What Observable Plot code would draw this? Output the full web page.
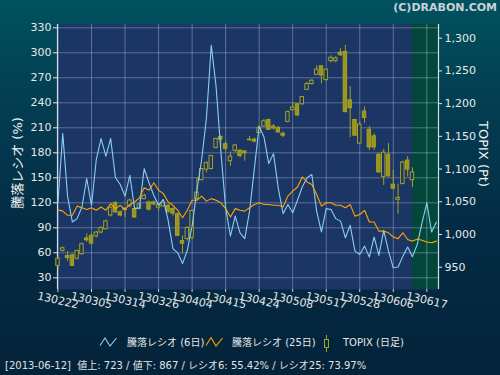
<!DOCTYPE html>
<html><head><meta charset="utf-8">
<script src="https://cdn.jsdelivr.net/npm/d3@7"></script>
<script src="https://cdn.jsdelivr.net/npm/@observablehq/plot@0.6"></script>
<style>
body{margin:0;background:#000;}
#wrap{position:relative;width:500px;height:375px;overflow:hidden;
 background:linear-gradient(180deg,#00525f 0%,#033d52 28%,#032c44 60%,#03233a 100%);
 font-family:"DejaVu Sans","Noto Sans CJK JP",sans-serif;color:#e8e8e8;}
#chart{position:absolute;left:0;top:0;}
.abs{position:absolute;white-space:nowrap;line-height:1;}
#hdr{right:3px;top:2px;font-weight:bold;font-size:11px;color:#c9d3d5;}
.lg{font-size:10px;top:338px;color:#e6e6e6;}
#foot{left:5px;top:361px;font-size:10px;color:#e2e2e2;}
</style></head>
<body><div id="wrap">
<div id="chart"></div>
<div class="abs" id="hdr">(C)DRABON.COM</div>
<svg class="abs" style="left:99px;top:336px" width="20" height="12"><polyline points="1,9.5 6,2 11,10 17.5,2" fill="none" stroke="#88d0f2" stroke-width="1.1"/></svg>
<div class="abs lg" style="left:127px">騰落レシオ (6日)</div>
<svg class="abs" style="left:205px;top:336px" width="20" height="12"><polyline points="1,9.5 6,1.5 11,10 17.5,2" fill="none" stroke="#ffa500" stroke-width="1.1"/></svg>
<div class="abs lg" style="left:232px">騰落レシオ (25日)</div>
<svg class="abs" style="left:321px;top:334px" width="12" height="19"><line x1="5.5" y1="1" x2="5.5" y2="18" stroke="#a6a221"/><rect x="3.5" y="5.5" width="4" height="8" fill="#0b2a42" stroke="#a6a221"/></svg>
<div class="abs lg" style="left:343px">TOPIX (日足)</div>
<div class="abs" id="foot">[2013-06-12]&nbsp; 値上: 723 / 値下: 867 / レシオ6: 55.42% / レシオ25: 73.97%</div>
</div>
<script>
// trading days (x positions are the index into this list)
const dates = ["130222","130225","130226","130227","130228","130301","130304","130305","130306","130307",
"130308","130311","130312","130313","130314","130315","130318","130319","130321","130322",
"130325","130326","130327","130328","130329","130401","130402","130403","130404","130405",
"130408","130409","130410","130411","130412","130415","130416","130417","130418","130419",
"130422","130423","130424","130425","130426","130430","130501","130502","130507","130508",
"130509","130510","130513","130514","130515","130516","130517","130520","130521","130522",
"130523","130524","130527","130528","130529","130530","130531","130603","130604","130605",
"130606","130607","130610","130611","130612","130613","130614","130617","130618","130619"];
const tickLabels = ["130222","130305","130314","130326","130404","130415","130424","130508","130517","130528","130606","130617"];
const leftTicks = [30,60,90,120,150,180,210,240,270,300,330];
const rightTicks = [950,1000,1050,1100,1150,1200,1250,1300];
const shadeFrom = "130612";

// 騰落レシオ (6日)
const ratio6 = [121,203,128,97,101,115,149,117,172,197,
176,197,150,142,128,153,113,114,161,144,
129,117,124,99,65,60,47,63,92,135,
172,222,309,260,182,114,80,104,84,77,
110,161,212,199,167,179,137,107,118,108,
123,139,150,154,110,85,113,112,101,98,
78,93,62,58,68,55,79,57,87,62,
42,43,56,67,55.4,70,96,120,85,97];
// 騰落レシオ (25日)
const ratio25 = [111.6,110,105,105,116,114,112,114,111,115,
111,119,113,117,112,118,121,126,138,135,
144,135,131,121,117,111,102,111,123,123,
128,122,125,123,120,113,103,113,111,110,
114,118,120,118,118,117,117,115,128,134,
139,151,145,142,130,116,120,120,117,117,
114,118,104,106,111,97,97,86,86,84,
79,77,84,76,74,76.5,75,73,72,74];
// TOPIX daily candles
const open  = [952,975,967,968,963,970,994,998,997,1003,1008,1029,1048,1034,1039,1043,1039,1039,1054,1049,
1049,1041,1043,1044,1039,1031,990,993,995,1054,1083,1099,1100,1132,1149,1138,1112,1128,1128,1127,
1145,1145,1155,1165,1175,1165,1163,1154,1172,1190,1199,1199,1221,1230,1244,1257,1236,1265,1265,1278,
1279,1205,1175,1139,1188,1160,1150,1122,1088,1122,1076,1053,1077,1113,1083];
const high  = [966,981,974,970,975,987,1001,1002,1005,1012,1022,1042,1050,1036,1041,1054,1041,1047,1062,1051,
1051,1047,1049,1046,1041,1033,998,1012,1037,1087,1101,1111,1121,1147,1151,1142,1126,1138,1130,1128,
1150,1147,1165,1176,1176,1168,1165,1157,1189,1202,1200,1211,1233,1237,1258,1258,1253,1273,1272,1284,
1289,1226,1176,1172,1195,1165,1154,1124,1130,1139,1098,1077,1112,1119,1102];
const low   = [947,973,959,951,961,968,988,984,995,1001,1007,1027,1032,1027,1026,1041,1025,1038,1053,1036,
1044,1036,1042,1032,1028,997,970,990,992,1053,1082,1094,1099,1131,1133,1127,1104,1125,1117,1112,
1143,1140,1154,1164,1159,1160,1155,1148,1171,1189,1180,1197,1220,1228,1243,1230,1234,1262,1262,1272,
1186,1148,1150,1138,1170,1128,1128,1093,1075,1087,1069,1031,1076,1088,1072];
const close = [963,979,964,952,975,985,991,986,1003,1010,1020,1041,1034,1029,1037,1052,1026,1046,1059,1038,
1046,1045,1048,1035,1032,998,986,1010,1036,1064,1100,1109,1120,1146,1145,1131,1119,1136,1120,1124,
1144,1142,1163,1173,1160,1162,1156,1151,1187,1194,1182,1210,1230,1235,1252,1243,1252,1270,1269,1274,
1187,1193,1151,1168,1178,1133,1133,1095,1125,1089,1070,1056,1110,1099,1095];

// right axis (TOPIX) expressed in left-axis units
const R1 = [1300, 317.52], R0 = [950, 42.71];
const rk = (R1[1]-R0[1])/(R1[0]-R0[0]);
const toL = p => R0[1] + (p - R0[0]) * rk;
const fromL = v => R0[0] + (v - R0[1]) / rk;

const xDom = [-0.1, 79.44];
const tickIdx = tickLabels.map(d => dates.indexOf(d));
const candles = open.map((o, i) => ({i, o, h: high[i], l: low[i], c: close[i]}));
const up = candles.filter(d => d.c >= d.o), down = candles.filter(d => d.c < d.o);
const olive = "#a6a221", bodyFill = "#99961c", plotBg = "#1b3565";
const hw = 0.36;

const chart = Plot.plot({
  width: 500, height: 320,
  marginLeft: 57, marginRight: 62, marginTop: 24, marginBottom: 31,
  style: {background: "transparent", fontFamily: "DejaVu Sans, Noto Sans CJK JP, sans-serif", fontSize: "11px", color: "#e8e8e8", overflow: "visible"},
  x: {domain: xDom, axis: null},
  y: {domain: [15.96, 333.96], axis: null},
  marks: [
    Plot.frame({fill: plotBg, stroke: null}),
    Plot.rect([{a: dates.indexOf(shadeFrom), b: xDom[1]}], {x1: "a", x2: "b", fill: "#02473a"}),
    Plot.gridY(leftTicks, {stroke: "#c8d0e8", strokeOpacity: 0.38, strokeWidth: 1}),
    Plot.gridX(tickIdx, {stroke: "#c8d0e8", strokeOpacity: 0.38, strokeWidth: 1}),
    Plot.ruleX(xDom, {stroke: "#d6dbe6", strokeWidth: 1.2}),
    Plot.axisY(leftTicks, {anchor: "left", tickSize: 4, tickPadding: 2, fontSize: 11, color: "#e8e8e8"}),
    Plot.axisY(rightTicks.map(toL), {anchor: "right", tickSize: 3, tickPadding: 3, fontSize: 11, color: "#e8e8e8",
      tickFormat: v => d3.format(",")(Math.round(fromL(v)))}),
    Plot.axisX(tickIdx, {tickSize: 3, tickFormat: () => "", color: "#c8d0e0"}),
    Plot.text(tickIdx, {x: d => d, text: d => dates[d], frameAnchor: "bottom", dy: 11, rotate: 13,
      textAnchor: "middle", lineAnchor: "middle", fontSize: 11, fill: "#e6e6e6"}),
    Plot.text(["騰落レシオ (%)"], {frameAnchor: "left", dx: -40, dy: 6, rotate: -90, textAnchor: "middle", lineAnchor: "middle", fontSize: 13, fill: "#f4f4f4"}),
    Plot.text(["TOPIX (Pt)"], {frameAnchor: "right", dx: 45, dy: -3, rotate: 90, textAnchor: "middle", lineAnchor: "middle", fontSize: 13, fill: "#f4f4f4"}),
    // candles
    Plot.ruleX(candles, {x: "i", y1: d => toL(d.l), y2: d => toL(d.h), stroke: olive, strokeWidth: 1}),
    Plot.rect(down, {x1: d => d.i - hw, x2: d => d.i + hw, y1: d => toL(d.c), y2: d => toL(d.o), fill: bodyFill, stroke: olive, strokeWidth: 1}),
    Plot.rect(up, {x1: d => d.i - hw, x2: d => d.i + hw, y1: d => toL(d.o), y2: d => toL(d.c), fill: plotBg, stroke: olive, strokeWidth: 1}),
    // ratio lines
    Plot.line(ratio6, {x: (d, i) => i, y: d => d, stroke: "#88d0f2", strokeWidth: 1.1}),
    Plot.line(ratio25, {x: (d, i) => i, y: d => d, stroke: "#ffa500", strokeWidth: 1.1})
  ]
});
document.getElementById("chart").append(chart);
</script>
</body></html>
